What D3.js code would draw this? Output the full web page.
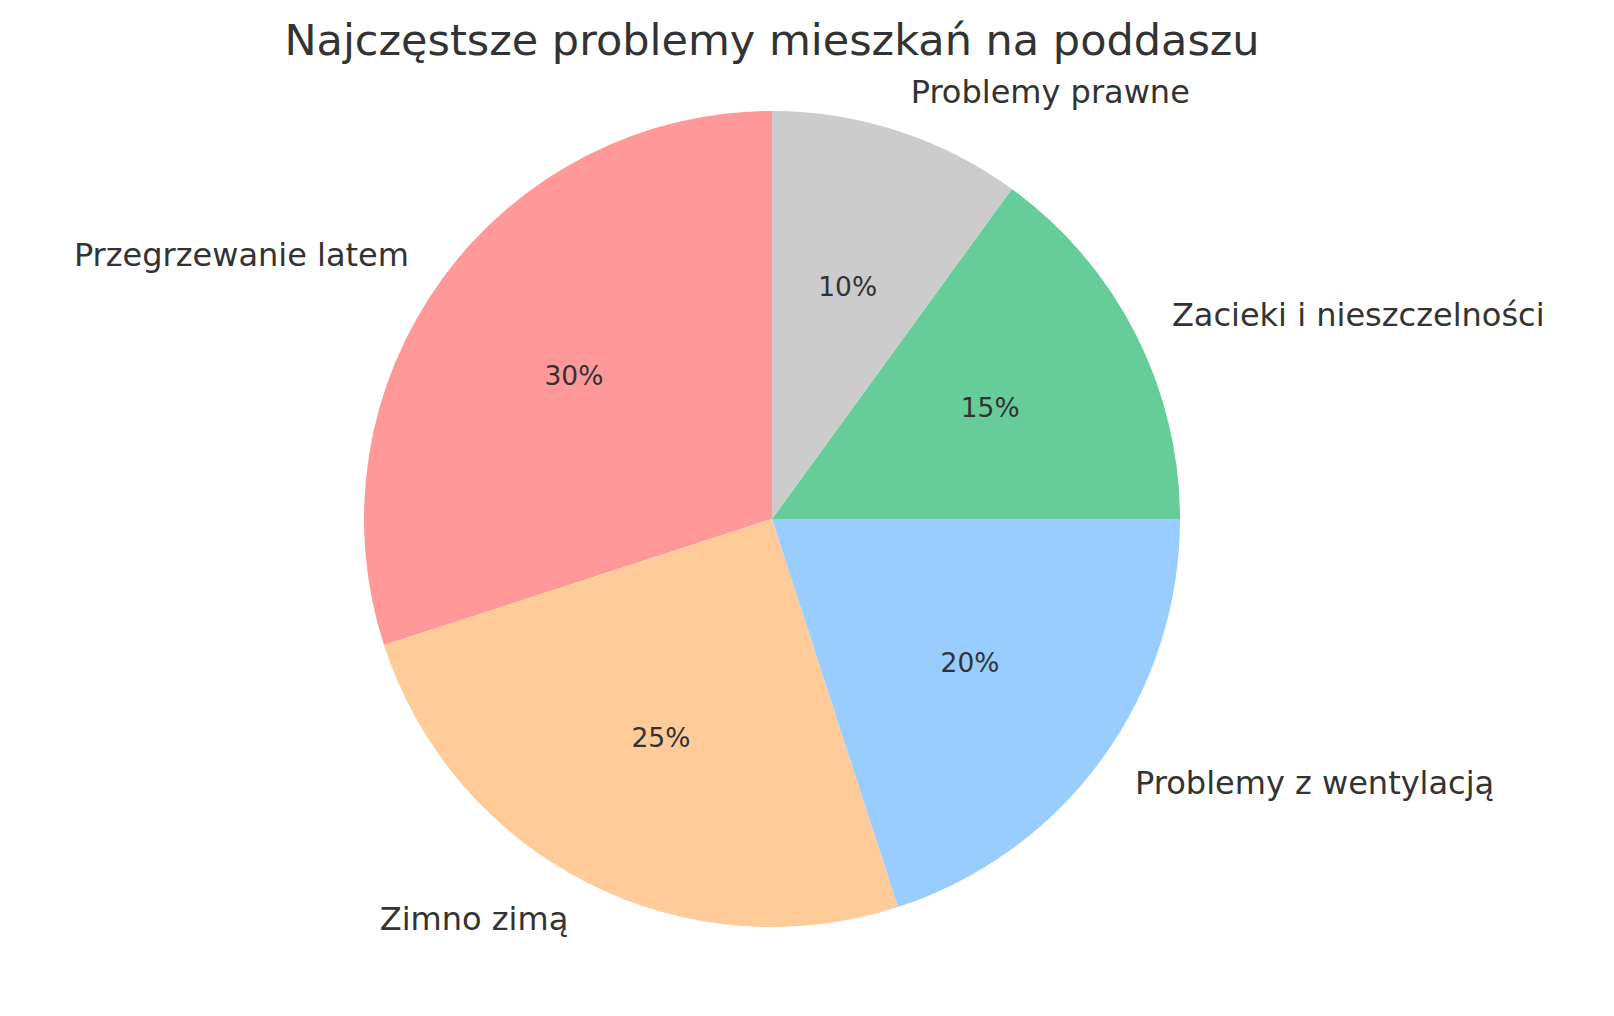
<!DOCTYPE html>
<html>
<head>
<meta charset="utf-8">
<script src="https://cdn.jsdelivr.net/npm/d3@7"></script>
<style>
  body { margin: 0; background: #fff; }
  text { font-family: "DejaVu Sans", sans-serif; fill: #333; }
</style>
</head>
<body>
<script>
// data
var categories = [ "Przegrzewanie latem", "Zimno zimą", "Problemy z wentylacją", "Zacieki i nieszczelności", "Problemy prawne" ];
var values = [ 30, 25, 20, 15, 10 ];
var colors = [ "#ff9999", "#ffcc99", "#99ccff", "#66cc99", "#cccccc" ];

var W = 1614, H = 1016;
var cx = 772, cy = 519, r = 408;

var svg = d3.select( "body" ).append( "svg" )
   .attr( "width", W ).attr( "height", H );

svg.append( "text" )
   .attr( "x", cx ).attr( "y", 55 )
   .attr( "text-anchor", "middle" )
   .style( "font-size", "43px" )
   .text( "Najczęstsze problemy mieszkań na poddaszu" );

// counterclockwise from top, like matplotlib startangle=90
var pie = d3.pie().sort( null ).startAngle( 0 ).endAngle( -2 * Math.PI );
var arcs = pie( values );

var g = svg.append( "g" ).attr( "transform", "translate(" + cx + "," + cy + ")" );

g.selectAll( "path" ).data( arcs ).enter().append( "path" )
   .attr( "d", d3.arc().innerRadius( 0 ).outerRadius( r ) )
   .attr( "fill", function( d, i ) { return colors[i]; } );

function pos( d, k ) {
   var a = ( d.startAngle + d.endAngle ) / 2;
   return [ Math.sin( a ) * r * k, -Math.cos( a ) * r * k ];
}

g.selectAll( ".pct" ).data( arcs ).enter().append( "text" )
   .attr( "x", function( d ) { return pos( d, 0.6 )[0]; } )
   .attr( "y", function( d ) { return pos( d, 0.6 )[1]; } )
   .attr( "text-anchor", "middle" )
   .attr( "dominant-baseline", "central" )
   .style( "font-size", "26.5px" )
   .text( function( d ) { return d.value + "%"; } );

g.selectAll( ".lbl" ).data( arcs ).enter().append( "text" )
   .attr( "x", function( d ) { return pos( d, 1.1 )[0]; } )
   .attr( "y", function( d ) { return pos( d, 1.1 )[1]; } )
   .attr( "text-anchor", function( d ) { return pos( d, 1 )[0] < 0 ? "end" : "start"; } )
   .attr( "dominant-baseline", "central" )
   .style( "font-size", "32px" )
   .text( function( d, i ) { return categories[i]; } );
</script>
</body>
</html>
